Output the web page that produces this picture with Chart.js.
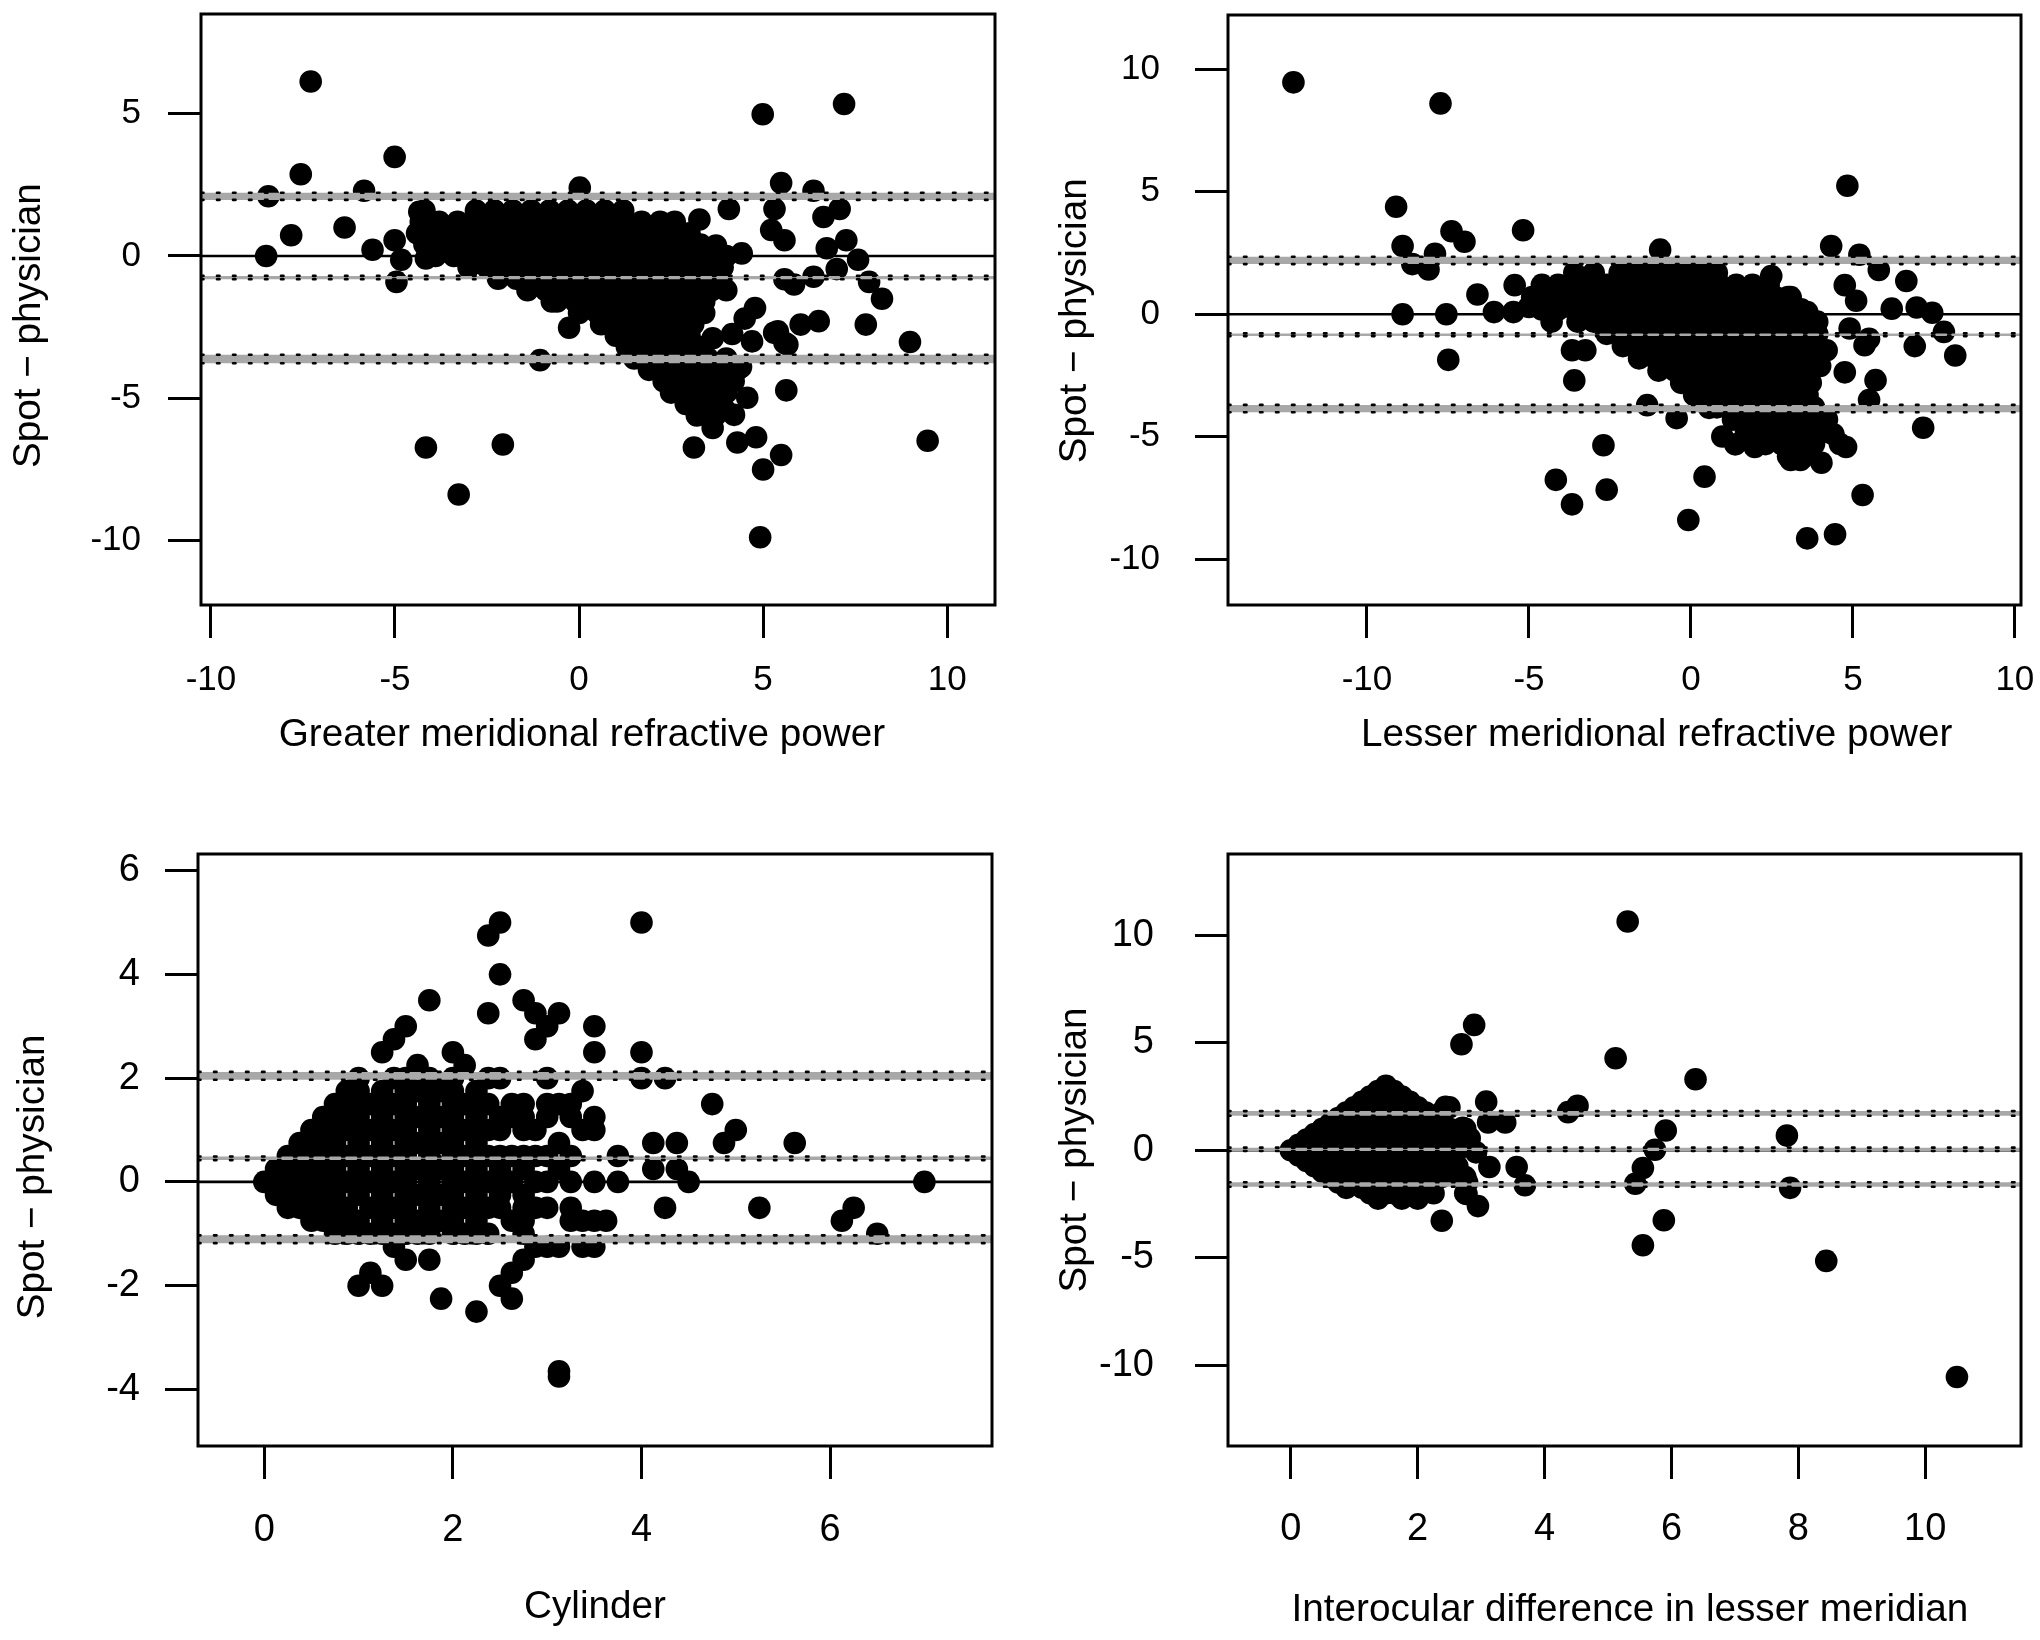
<!DOCTYPE html>
<html><head><meta charset="utf-8">
<script src="https://cdn.jsdelivr.net/npm/chart.js@4/dist/chart.umd.min.js"></script>
<style>
html,body{margin:0;padding:0;background:#fff;}
#wrap{position:relative;width:2040px;height:1640px;background:#fff;}
canvas{position:absolute;}
</style></head><body>
<div id="wrap">
<canvas id="c1" width="1020" height="820" style="left:0px;top:0px;width:1020px;height:820px"></canvas>
<canvas id="c2" width="1020" height="820" style="left:1020px;top:0px;width:1020px;height:820px"></canvas>
<canvas id="c3" width="1020" height="820" style="left:0px;top:820px;width:1020px;height:820px"></canvas>
<canvas id="c4" width="1020" height="820" style="left:1020px;top:820px;width:1020px;height:820px"></canvas>
</div>
<script>
// ---------------- DATA ----------------
// Panel 1: Greater meridional refractive power
const greaterXTicks = [-10, -5, 0, 5, 10];
const greaterYTicks = [-10, -5, 0, 5];
const greaterXRange = [-10.27, 11.30];
const greaterYRange = [-12.26, 8.50];
const greaterBands = [[1.97, 2.22], [-0.82, -0.70], [-3.77, -3.47]]; // CI low/high: upper LoA, mean, lower LoA
const greaterRowY = [1.6, 1.2, 0.8, 0.4, 0.0, -0.4, -0.8, -1.2, -1.6, -2.0, -2.4, -2.8, -3.2, -3.6, -4.0, -4.4, -4.8, -5.2, -5.6];
const greaterRowX = [
  [-4.2, -2.8, -2.3, -1.8, -1.3, -0.8, -0.3, 0.2, 0.7, 1.2],
  [-4.3, -3.8, -3.3, -2.8, -2.3, -1.8, -1.3, -0.8, -0.3, 0.2, 0.7, 1.2, 1.7, 2.2, 2.6],
  [-4.4, -3.9, -3.4, -2.9, -2.4, -1.9, -1.4, -0.9, -0.4, 0.1, 0.6, 1.1, 1.6, 2.1, 2.6, 3.0],
  [-4.2, -3.7, -3.2, -2.7, -2.2, -1.7, -1.2, -0.7, -0.2, 0.3, 0.8, 1.3, 1.8, 2.3, 2.8, 3.3],
  [-3.9, -3.4, -2.9, -2.4, -1.9, -1.4, -0.9, -0.4, 0.1, 0.6, 1.1, 1.6, 2.1, 2.6, 3.1, 3.6, 4.0],
  [-3.0, -2.5, -2.0, -1.5, -1.0, -0.5, 0.0, 0.5, 1.0, 1.5, 2.0, 2.5, 3.0, 3.5, 3.9],
  [-2.2, -1.7, -1.2, -0.7, -0.2, 0.3, 0.8, 1.3, 1.8, 2.3, 2.8, 3.3, 3.8],
  [-1.4, -0.9, -0.4, 0.1, 0.6, 1.1, 1.6, 2.1, 2.6, 3.1, 3.6, 4.0],
  [-0.6, -0.1, 0.4, 0.9, 1.4, 1.9, 2.4, 2.9, 3.4],
  [0.0, 0.5, 1.0, 1.5, 2.0, 2.5, 3.0, 3.4],
  [0.6, 1.1, 1.6, 2.1, 2.6, 3.1],
  [1.0, 1.5, 2.0, 2.5, 3.0],
  [1.3, 1.8, 2.3, 2.8, 3.3],
  [1.5, 2.0, 2.5, 3.0, 3.5, 4.0],
  [1.9, 2.4, 2.9, 3.4, 3.9, 4.3],
  [2.3, 2.8, 3.3, 3.8, 4.2],
  [2.5, 3.0, 3.5, 4.0],
  [2.9, 3.4, 3.8],
  [3.2, 3.7]
];
const greaterOutliers = [
  [-7.29, 6.13], [-7.56, 2.87], [-8.44, 2.1], [-8.5, 0], [-7.82, 0.73], [-6.37, 1.0], [-5.84, 2.29],
  [-5.61, 0.22], [-5.01, 3.48], [-5.01, 0.55], [-4.83, -0.13], [-4.96, -0.91], [-4.34, 1.55], [-4.16, -0.09],
  [-4.16, -6.73], [-3.27, -8.38], [-2.07, -6.62], [-1.06, -3.66], [-0.27, -2.52], [-0.74, -1.6], [0.02, 2.4],
  [4.99, 4.98], [7.2, 5.34], [5.49, 2.56], [5.31, 1.65], [5.22, 0.91], [5.58, 0.55], [6.37, 2.29],
  [6.64, 1.37], [7.08, 1.65], [6.73, 0.27], [7.26, 0.55], [7.58, -0.13], [7.0, -0.46], [4.07, 1.65],
  [4.42, 0.09], [3.27, 1.28], [3.72, 0.37], [5.58, -0.82], [5.84, -1.0], [6.37, -0.73], [7.88, -0.91],
  [8.23, -1.5], [7.79, -2.41], [6.51, -2.29], [6.02, -2.41], [8.99, -3.02], [9.47, -6.49], [5.63, -4.72],
  [5.66, -3.11], [5.4, -2.65], [5.0, -7.5], [4.81, -6.37], [5.49, -6.99], [4.92, -9.88], [4.3, -6.55],
  [3.12, -6.73], [4.21, -5.58], [4.57, -4.98], [3.63, -6.04], [4.78, -1.83], [4.16, -2.74], [3.63, -2.89],
  [4.5, -2.2], [5.3, -2.7], [5.58, -3.05], [4.4, -3.9], [4.7, -3.0], [3.96, -5.4]
];

// Panel 2: Lesser meridional refractive power
const lesserXTicks = [-10, -5, 0, 5, 10];
const lesserYTicks = [-10, -5, 0, 5, 10];
const lesserXRange = [-14.29, 10.19];
const lesserYRange = [-11.87, 12.22];
const lesserBands = [[2.05, 2.35], [-0.89, -0.78], [-4.0, -3.7]];
const lesserRowY = [1.7, 1.2, 0.7, 0.2, -0.3, -0.8, -1.3, -1.8, -2.3, -2.8, -3.3, -3.8, -4.3, -4.8, -5.3, -5.8];
const lesserRowX = [
  [-3.6, -3.0, -2.2, -1.7, -1.2, -0.7, -0.2, 0.3, 0.8],
  [-4.6, -4.1, -3.6, -3.1, -2.6, -2.1, -1.6, -1.1, -0.6, -0.1, 0.4, 0.9, 1.4, 1.9, 2.4],
  [-4.9, -4.4, -3.9, -3.4, -2.9, -2.4, -1.9, -1.4, -0.9, -0.4, 0.1, 0.6, 1.1, 1.6, 2.1, 2.6, 3.0],
  [-4.6, -4.1, -3.6, -3.1, -2.6, -2.1, -1.6, -1.1, -0.6, -0.1, 0.4, 0.9, 1.4, 1.9, 2.4, 2.9, 3.4],
  [-4.3, -3.5, -3.0, -2.5, -2.0, -1.5, -1.0, -0.5, 0.0, 0.5, 1.0, 1.5, 2.0, 2.5, 3.0, 3.5, 3.9],
  [-2.6, -2.1, -1.6, -1.1, -0.6, -0.1, 0.4, 0.9, 1.4, 1.9, 2.4, 2.9, 3.4, 3.9],
  [-2.1, -1.6, -1.1, -0.6, -0.1, 0.4, 0.9, 1.4, 1.9, 2.4, 2.9, 3.4, 3.9],
  [-1.6, -1.1, -0.6, -0.1, 0.4, 0.9, 1.4, 1.9, 2.4, 2.9, 3.4, 3.8],
  [-1.0, -0.5, 0.0, 0.5, 1.0, 1.5, 2.0, 2.5, 3.0, 3.5],
  [-0.3, 0.2, 0.7, 1.2, 1.7, 2.2, 2.7, 3.2, 3.7],
  [0.1, 0.6, 1.1, 1.6, 2.1, 2.6, 3.1, 3.6],
  [0.8, 1.3, 1.8, 2.3, 2.8, 3.3, 3.8],
  [1.3, 1.8, 2.3, 2.8, 3.3, 3.8, 4.2],
  [1.7, 2.2, 2.7, 3.2, 3.7, 4.2],
  [2.3, 2.8, 3.3, 3.8],
  [3.0, 3.5]
];
const lesserOutliers = [
  [-12.27, 9.47], [-7.73, 8.61], [-9.1, 4.39], [-8.9, 2.79], [-8.6, 2.05], [-8.1, 1.83], [-7.9, 2.47],
  [-7.39, 3.39], [-6.99, 2.96], [-8.9, 0], [-7.55, 0], [-7.49, -1.86], [-6.59, 0.81], [-6.08, 0.09],
  [-5.48, 0.09], [-5.44, 1.19], [-5.18, 3.43], [-5.0, 0.3], [-4.7, 0.8], [-3.67, -1.47], [-3.26, -1.47],
  [-3.6, -2.7], [-4.17, -6.76], [-3.67, -7.76], [-2.7, -5.35], [-2.6, -7.16], [-1.35, -3.71], [-0.44, -4.24],
  [-0.08, -8.4], [0.42, -6.63], [0.56, -3.82], [3.59, -9.15], [4.45, -8.98], [5.3, -7.38], [7.17, -4.63],
  [4.83, 5.25], [4.33, 2.79], [5.2, 2.43], [5.8, 1.81], [4.75, 1.19], [5.1, 0.55], [4.9, -0.58],
  [5.5, -1.0], [5.36, -1.26], [5.7, -2.69], [5.5, -3.5], [4.75, -2.37], [6.65, 1.36], [6.2, 0.23],
  [6.97, 0.28], [7.45, 0.06], [6.91, -1.3], [7.81, -0.72], [8.16, -1.68], [4.19, -1.47], [3.99, -2.11],
  [4.03, -4.41], [4.03, -6.06], [4.79, -5.42], [3.08, -5.95], [3.38, -5.95], [0.97, -4.99], [1.37, -5.31],
  [1.97, -5.42], [-0.95, 2.64], [2.48, 1.56], [3.08, 0.7], [3.59, 0.09], [0.16, -2.75], [4.4, -4.9], [4.6, -5.3]
];

// Panel 3: Cylinder
const cylXTicks = [0, 2, 4, 6];
const cylYTicks = [-4, -2, 0, 2, 4, 6];
const cylXRange = [-0.703, 7.717];
const cylYRange = [-5.09, 6.32];
const cylBands = [[1.97, 2.12], [0.42, 0.49], [-1.18, -1.03]];
const cylColX = [0, 0.125, 0.25, 0.375, 0.5, 0.625, 0.75, 0.875, 1.0, 1.125, 1.25, 1.375, 1.5, 1.625, 1.75,
  1.875, 2.0, 2.125, 2.25, 2.375, 2.5, 2.625, 2.75, 2.875, 3.0, 3.125, 3.25, 3.375, 3.5, 3.625, 3.75, 4.0,
  4.125, 4.25, 4.375, 4.5, 4.75, 4.875, 5.0, 5.25, 5.625, 6.125, 6.25, 6.5, 7.0];
const cylColY = [
  [0],
  [0.25, 0, -0.25],
  [0.5, 0.25, 0, -0.25, -0.5],
  [0.75, 0.5, 0.25, 0, -0.25, -0.5],
  [1.0, 0.75, 0.5, 0.25, 0, -0.25, -0.5, -0.75],
  [1.25, 1.0, 0.75, 0.5, 0.25, 0, -0.25, -0.5, -0.75],
  [1.5, 1.25, 1.0, 0.75, 0.5, 0.25, 0, -0.25, -0.5, -0.75, -1.0],
  [1.75, 1.5, 1.25, 1.0, 0.5, 0, -0.5, -0.75, -1.0],
  [2.0, 1.75, 1.5, 1.25, 1.0, 0.75, 0.5, 0.25, 0, -0.25, -0.75, -1.0, -2.0],
  [1.5, 1.0, 0.5, 0, -0.5, -1.0, -1.75],
  [2.5, 1.75, 1.5, 1.25, 1.0, 0.75, 0.5, 0.25, 0, -0.25, -0.5, -0.75, -1.0, -2.0],
  [2.75, 2.0, 1.5, 1.0, 0.5, 0, -0.5, -1.0, -1.25],
  [3.0, 2.0, 1.75, 1.5, 1.25, 1.0, 0.75, 0.5, 0.25, 0, -0.25, -0.5, -0.75, -1.0, -1.5],
  [2.25, 1.75, 1.25, 0.75, 0.25, -0.25, -0.75, -1.0],
  [3.5, 2.0, 1.75, 1.5, 1.25, 1.0, 0.75, 0.5, 0.25, 0, -0.25, -0.5, -0.75, -1.0, -1.5],
  [1.75, 1.25, 0.75, 0.25, -0.25, -0.75, -2.25],
  [2.5, 2.0, 1.75, 1.5, 1.25, 1.0, 0.75, 0.5, 0.25, 0, -0.25, -0.5, -0.75, -1.0],
  [2.25, 1.5, 1.0, 0.5, 0, -0.5, -1.0],
  [1.75, 1.5, 1.25, 1.0, 0.75, 0.5, 0.25, 0, -0.25, -0.5, -0.75, -1.0, -2.5],
  [4.75, 3.25, 2.0, 1.5, 1.0, 0.5, 0, -0.5, -1.0],
  [5.0, 4.0, 2.0, 1.25, 1.0, 0.5, 0.25, 0, -0.25, -0.5, -2.0],
  [1.5, 1.25, 0.5, 0, -0.75, -1.75, -2.25],
  [3.5, 1.5, 1.25, 1.0, 0.5, 0.25, -0.25, -0.5, -0.75, -1.0, -1.5],
  [3.25, 2.75, 1.0, 0.5, 0, -0.5, -1.25],
  [3.0, 2.0, 1.5, 1.25, 0.5, 0, -0.5, -1.25],
  [3.25, 1.5, 0.75, 0.25, -1.25, -3.75, -3.65],
  [1.5, 1.25, 0.5, 0, -0.5, -0.75],
  [1.75, 1.0, -0.75, -1.25],
  [3.0, 2.5, 1.25, 1.0, 0, -0.75, -1.25],
  [-0.75],
  [0.5, 0],
  [5.0, 2.5, 2.0],
  [0.75, 0.25],
  [2.0, -0.5],
  [0.75, 0.25],
  [0],
  [1.5],
  [0.75],
  [1.0],
  [-0.5],
  [0.75],
  [-0.75],
  [-0.5],
  [-1.0],
  [0]
];

// Panel 4: Interocular difference in lesser meridian
const ioXTicks = [0, 2, 4, 6, 8, 10];
const ioYTicks = [-10, -5, 0, 5, 10];
const ioXRange = [-0.99, 11.51];
const ioYRange = [-13.76, 13.78];
const ioBands = [[1.6, 1.82], [-0.04, 0.12], [-1.70, -1.49]];
const ioColX = [0, 0.125, 0.25, 0.375, 0.5, 0.625, 0.75, 0.875, 1.0, 1.125, 1.25, 1.375, 1.5, 1.625, 1.75,
  1.875, 2.0, 2.125, 2.25, 2.375, 2.5, 2.625, 2.75];
const ioColY = [
  [0],
  [0.25, 0, -0.25],
  [0.5, 0, -0.5],
  [0.75, 0.25, -0.25, -0.75],
  [1.0, 0.5, 0, -0.5, -1.0],
  [1.25, 0.75, 0.25, -0.25, -0.75, -1.25],
  [1.5, 1.0, 0.5, 0, -0.5, -1.0, -1.5],
  [1.75, 1.25, 0.75, 0.25, -0.25, -0.75, -1.25, -1.75],
  [2.0, 1.5, 1.0, 0.5, 0, -0.5, -1.0, -1.5],
  [2.25, 1.75, 1.25, 0.75, 0.25, -0.25, -0.75, -1.25, -1.75],
  [2.5, 2.0, 1.5, 1.0, 0.5, 0, -0.5, -1.0, -1.5, -2.0],
  [2.75, 2.25, 1.75, 1.25, 0.75, 0.25, -0.25, -0.75, -1.25, -1.75, -2.25],
  [3.0, 2.5, 2.0, 1.5, 1.0, 0.5, 0, -0.5, -1.0, -1.5, -2.0],
  [2.75, 2.25, 1.75, 1.25, 0.75, 0.25, -0.25, -0.75, -1.25, -2.0],
  [2.5, 2.0, 1.5, 1.0, 0.5, 0, -0.5, -1.0, -1.5, -2.25],
  [2.25, 1.75, 1.25, 0.75, 0.25, -0.25, -0.75, -1.25, -1.75],
  [2.0, 1.5, 1.0, 0.5, 0, -0.5, -1.0, -1.5, -2.25],
  [1.75, 1.25, 0.75, 0.25, -0.25, -0.75, -1.25, -1.75],
  [1.5, 1.0, 0.5, 0, -0.5, -1.0, -1.5, -2.0],
  [1.75, 0.75, 0.25, -0.25, -0.75, -1.25],
  [2.0, 1.0, 0.5, 0, -0.5, -1.0],
  [0.75, 0, -0.75],
  [1.0, 0.5, -1.25, -2.0]
];
const ioOutliers = [
  [5.31, 10.64], [10.5, -10.55], [2.89, 5.83], [2.69, 4.93], [5.12, 4.28], [6.38, 3.3], [8.44, -5.15],
  [7.82, 0.68], [7.87, -1.75], [5.91, 0.92], [5.74, 0.02], [5.55, -0.83], [5.43, -1.56], [5.88, -3.26],
  [5.55, -4.42], [4.37, 1.77], [4.52, 2.07], [3.08, 2.26], [3.11, 1.29], [3.38, 1.29], [2.92, -0.1],
  [3.13, -0.78], [3.56, -0.78], [3.69, -1.63], [2.95, -2.6], [2.38, -3.28], [2.44, 2.02], [2.71, 1.04],
  [2.82, 0.56], [2.77, -2.04], [2.78, -1.5], [2.6, 0.5]
];
const zeroLine = 0;

// ---------------- RENDERING ----------------
const FONT = "'Liberation Sans', Arial, Helvetica, sans-serif";
const BAND_GREY = '#a8a8a8';
const POINT_R = 11.3;

function rowsToPoints(rowY, rowX) { const pts = []; rowY.forEach((y, i) => rowX[i].forEach(x => pts.push({x, y}))); return pts; }
function colsToPoints(colX, colY) { const pts = []; colX.forEach((x, i) => colY[i].forEach(y => pts.push({x, y}))); return pts; }
function pairsToPoints(pairs) { return pairs.map(p => ({x: p[0], y: p[1]})); }

const framePlugin = {
  id: 'frame',
  afterDatasetsDraw(chart) {
    const {ctx, chartArea: a} = chart;
    ctx.save();
    ctx.strokeStyle = '#000';
    ctx.lineWidth = 3;
    ctx.strokeRect(a.left, a.top, a.right - a.left, a.bottom - a.top);
    ctx.restore();
  }
};

function makePanel(id, p) {
  const [xmin, xmax] = p.xRange;
  const hline = (y) => [{x: xmin, y}, {x: xmax, y}];
  const ds = [];
  ds.push({type: 'scatter', data: p.points, pointRadius: POINT_R, pointHoverRadius: POINT_R,
    backgroundColor: '#000', pointBackgroundColor: '#000', borderWidth: 0, pointBorderWidth: 0, order: 10});
  ds.push({type: 'line', data: hline(zeroLine), borderColor: '#000', borderWidth: 2.6, pointRadius: 0, fill: false, order: 5});
  p.bands.forEach(([lo, hi]) => {
    ds.push({type: 'line', data: hline(lo), borderColor: 'rgba(0,0,0,0)', borderWidth: 0, pointRadius: 0, fill: false, order: 4});
    ds.push({type: 'line', data: hline(hi), borderColor: 'rgba(0,0,0,0)', borderWidth: 0, pointRadius: 0,
      fill: '-1', backgroundColor: BAND_GREY, order: 4});
  });
  p.bands.forEach(([lo, hi]) => {
    [lo, hi].forEach(v => ds.push({type: 'line', data: hline(v), borderColor: '#000', borderWidth: 2.6,
      borderDash: [2.5, 13.5], borderCapStyle: 'round', pointRadius: 0, fill: false, order: 1}));
  });
  const titleFont = {family: FONT, size: 38.7};
  const tickFont = {family: FONT, size: p.tickSize};
  new Chart(document.getElementById(id), {
    type: 'scatter',
    data: {datasets: ds},
    options: {
      responsive: false, animation: false, events: [],
      layout: {padding: {left: 0, top: p.top, right: p.right, bottom: 0}},
      plugins: {legend: {display: false}, tooltip: {enabled: false}, filler: {propagate: false}},
      scales: {
        x: {
          type: 'linear', position: 'bottom', min: p.xRange[0], max: p.xRange[1],
          afterBuildTicks: s => { s.ticks = p.xTicks.map(v => ({value: v})); },
          afterFit: s => { s.height = p.xAxisH; s.paddingLeft = 0; s.paddingRight = 0; },
          grid: {display: true, drawOnChartArea: false, drawTicks: true, tickLength: 33, tickWidth: 3, tickColor: '#000'},
          border: {display: false},
          ticks: {color: '#000', font: tickFont, padding: p.xTickPad, maxRotation: 0, minRotation: 0, autoSkip: false,
            callback: v => String(v)},
          title: {display: true, text: p.xTitle, color: '#000', font: titleFont, padding: {top: 0, bottom: p.xTitlePad}}
        },
        y: {
          type: 'linear', position: 'left', min: p.yRange[0], max: p.yRange[1],
          afterBuildTicks: s => { s.ticks = p.yTicks.map(v => ({value: v})); },
          afterFit: s => { s.width = p.yAxisW; s.paddingTop = 0; s.paddingBottom = 0; },
          grid: {display: true, drawOnChartArea: false, drawTicks: true, tickLength: 33, tickWidth: 3, tickColor: '#000'},
          border: {display: false},
          ticks: {color: '#000', font: tickFont, padding: p.yTickPad, autoSkip: false, callback: v => String(v)},
          title: {display: true, text: p.yTitle, color: '#000', font: titleFont, padding: {top: p.yTitlePad, bottom: 0}}
        }
      }
    },
    plugins: [framePlugin]
  });
}

makePanel('c1', {
  points: rowsToPoints(greaterRowY, greaterRowX).concat(pairsToPoints(greaterOutliers)),
  xRange: greaterXRange, yRange: greaterYRange, xTicks: greaterXTicks, yTicks: greaterYTicks, bands: greaterBands,
  xTitle: 'Greater meridional refractive power   ', yTitle: 'Spot \u2212 physician   ',
  top: 14, right: 25, yAxisW: 201, xAxisH: 215, tickSize: 35,
  yTickPad: 27, xTickPad: 21, yTitlePad: 5.8, xTitlePad: 61.8
});
makePanel('c2', {
  points: rowsToPoints(lesserRowY, lesserRowX).concat(pairsToPoints(lesserOutliers)),
  xRange: lesserXRange, yRange: lesserYRange, xTicks: lesserXTicks, yTicks: lesserYTicks, bands: lesserBands,
  xTitle: '      Lesser meridional refractive power', yTitle: 'Spot \u2212 physician  ',
  top: 15, right: 19, yAxisW: 208, xAxisH: 215, tickSize: 35,
  yTickPad: 35, xTickPad: 21, yTitlePad: 31.8, xTitlePad: 61.8
});
makePanel('c3', {
  points: colsToPoints(cylColX, cylColY),
  xRange: cylXRange, yRange: cylYRange, xTicks: cylXTicks, yTicks: cylYTicks, bands: cylBands,
  xTitle: 'Cylinder', yTitle: 'Spot \u2212 physician     ',
  top: 34, right: 28, yAxisW: 198, xAxisH: 194, tickSize: 38,
  yTickPad: 25, xTickPad: 28.7, yTitlePad: 9.8, xTitlePad: 9.3
});
makePanel('c4', {
  points: colsToPoints(ioColX, ioColY).concat(pairsToPoints(ioOutliers)),
  xRange: ioXRange, yRange: ioYRange, xTicks: ioXTicks, yTicks: ioYTicks, bands: ioBands,
  xTitle: ' Interocular difference in lesser meridian', yTitle: 'Spot \u2212 physician',
  top: 34, right: 19, yAxisW: 208, xAxisH: 194, tickSize: 38,
  yTickPad: 41, xTickPad: 28.2, yTitlePad: 31.8, xTitlePad: 6.8
});
</script>
</body></html>
